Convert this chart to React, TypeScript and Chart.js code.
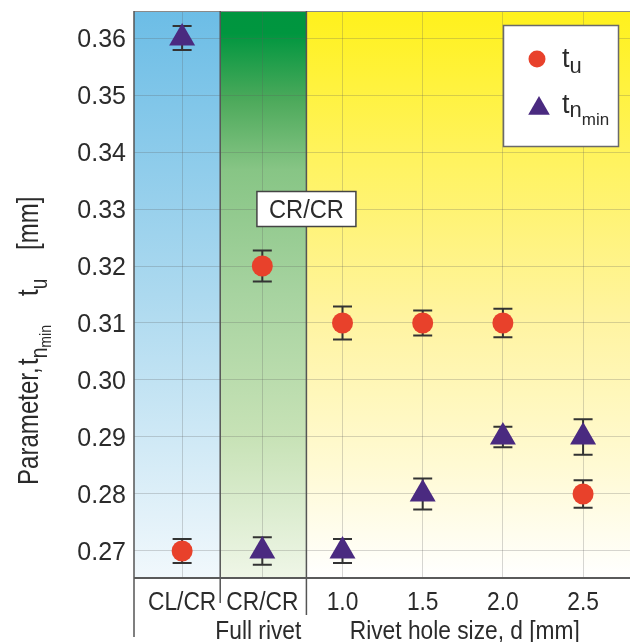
import React, { useEffect, useRef } from "react";
import { Chart, registerables } from "chart.js";

Chart.register(...registerables);

// ---------- data ----------
const categories = ["CL/CR", "CR/CR", "1.0", "1.5", "2.0", "2.5"];
const categoryPositions = [0, 1, 2, 3, 4, 5];
const tuValues = [0.27, 0.32, 0.31, 0.31, 0.31, 0.28];
const tuErrors = [0.0021, 0.0027, 0.0029, 0.0022, 0.0025, 0.0024];
const tnValues = [0.36, 0.27, 0.27, 0.28, 0.29, 0.29];
const tnErrors = [0.0021, 0.0024, 0.0021, 0.0027, 0.0018, 0.0031];
const yTicks = [0.27, 0.28, 0.29, 0.3, 0.31, 0.32, 0.33, 0.34, 0.35, 0.36];
const yTickLabels = ["0.27", "0.28", "0.29", "0.30", "0.31", "0.32", "0.33", "0.34", "0.35", "0.36"];
const regionBounds = [0.475, 1.55];
const groupLabelTexts = ["Full rivet", "Rivet hole size, d [mm]"];
const groupLabelFrom = [1, 2];
const groupLabelTo = [1, 5];
const annotationText = "CR/CR";
const annotationX = 1.55;
const annotationY = 0.33;

const RED = "#e8412b";
const PURPLE = "#4a2a80";
const TEXT = "#2b2b2b";
const FONT = '"Liberation Sans", Arial, Helvetica, sans-serif';

type Piece = { t: string; size: number; dy: number };

function setFont(ctx: CanvasRenderingContext2D, size: number) {
  ctx.font = `${size}px ${FONT}`;
}

function drawText(
  ctx: CanvasRenderingContext2D,
  s: string,
  x: number,
  y: number,
  size: number,
  align: CanvasTextAlign,
  sx = 1,
  color = TEXT
) {
  ctx.save();
  setFont(ctx, size);
  ctx.fillStyle = color;
  ctx.textBaseline = "alphabetic";
  ctx.textAlign = align;
  ctx.translate(x, y);
  ctx.scale(sx, 1);
  ctx.fillText(s, 0, 0);
  ctx.restore();
}

// draws pieces left-to-right in the current (possibly rotated) frame
function drawPieces(ctx: CanvasRenderingContext2D, pieces: Piece[], x0: number, y0: number, sx: number) {
  let x = x0;
  for (const p of pieces) {
    setFont(ctx, p.size);
    const w = ctx.measureText(p.t).width * sx;
    ctx.save();
    ctx.fillStyle = TEXT;
    ctx.textAlign = "left";
    ctx.textBaseline = "alphabetic";
    ctx.translate(x, y0 + p.dy);
    ctx.scale(sx, 1);
    ctx.fillText(p.t, 0, 0);
    ctx.restore();
    x += w;
  }
  return x;
}

function drawMarker(ctx: CanvasRenderingContext2D, style: string, x: number, y: number, r: number, color: string) {
  ctx.save();
  ctx.fillStyle = color;
  ctx.beginPath();
  if (style === "circle") {
    ctx.arc(x, y, r, 0, Math.PI * 2);
  } else {
    for (let k = 0; k < 3; k++) {
      const a = (k * 2 * Math.PI) / 3;
      const px = x + Math.sin(a) * r;
      const py = y - Math.cos(a) * r;
      if (k === 0) ctx.moveTo(px, py);
      else ctx.lineTo(px, py);
    }
    ctx.closePath();
  }
  ctx.fill();
  ctx.restore();
}

const decorPlugin = {
  id: "decor",
  beforeDraw(chart: any) {
    const { ctx, chartArea: a } = chart;
    const xs = chart.scales.x;
    ctx.save();
    ctx.fillStyle = "#ffffff";
    ctx.fillRect(0, 0, chart.width, chart.height);
    const b1 = xs.getPixelForValue(regionBounds[0]);
    const b2 = xs.getPixelForValue(regionBounds[1]);
    const h = a.bottom - a.top;

    const gBlue = ctx.createLinearGradient(0, a.top, 0, a.bottom);
    gBlue.addColorStop(0, "#6cbde6");
    gBlue.addColorStop(0.5, "#acd9ef");
    gBlue.addColorStop(1, "#f1f8fc");
    ctx.fillStyle = gBlue;
    ctx.fillRect(a.left, a.top, b1 - a.left, h);

    const gGreen = ctx.createLinearGradient(0, a.top, 0, a.bottom);
    gGreen.addColorStop(0, "#00953f");
    gGreen.addColorStop(0.04, "#00963f");
    gGreen.addColorStop(0.16, "#4eaa5c");
    gGreen.addColorStop(0.28, "#87c585");
    gGreen.addColorStop(0.5, "#a7d3a0");
    gGreen.addColorStop(0.75, "#c7e2b6");
    gGreen.addColorStop(1, "#eff6e7");
    ctx.fillStyle = gGreen;
    ctx.fillRect(b1, a.top, b2 - b1, h);

    const gYellow = ctx.createLinearGradient(0, a.top, 0, a.bottom);
    gYellow.addColorStop(0, "#fff11c");
    gYellow.addColorStop(0.25, "#fff35c");
    gYellow.addColorStop(0.55, "#fff4a2");
    gYellow.addColorStop(0.8, "#fffad3");
    gYellow.addColorStop(1, "#ffffff");
    ctx.fillStyle = gYellow;
    ctx.fillRect(b2, a.top, a.right - b2, h);
    ctx.restore();
  },
  beforeDatasetsDraw(chart: any) {
    const { ctx, chartArea: a } = chart;
    const xs = chart.scales.x;
    const ys = chart.scales.y;
    ctx.save();
    // frame lines
    ctx.strokeStyle = "#8a8a8a";
    ctx.lineWidth = 1;
    ctx.beginPath();
    ctx.moveTo(a.left, a.top + 0.5);
    ctx.lineTo(a.right, a.top + 0.5);
    ctx.stroke();

    ctx.strokeStyle = "#555555";
    ctx.lineWidth = 1.5;
    const b1 = xs.getPixelForValue(regionBounds[0]);
    const b2 = xs.getPixelForValue(regionBounds[1]);
    ctx.beginPath();
    ctx.moveTo(b1, a.top);
    ctx.lineTo(b1, a.bottom + 25);
    ctx.moveTo(b2, a.top);
    ctx.lineTo(b2, a.bottom + 37);
    ctx.moveTo(a.left, a.top);
    ctx.lineTo(a.left, a.bottom + 59);
    ctx.stroke();

    ctx.lineWidth = 2;
    ctx.strokeStyle = "#5a5a5a";
    ctx.beginPath();
    ctx.moveTo(a.left, a.bottom);
    ctx.lineTo(a.right, a.bottom);
    ctx.stroke();

    // error bars
    ctx.strokeStyle = "#333333";
    ctx.lineWidth = 2;
    const series = [
      [tuValues, tuErrors],
      [tnValues, tnErrors],
    ];
    for (const [vals, errs] of series) {
      categoryPositions.forEach((p, i) => {
        const x = xs.getPixelForValue(p);
        const yT = ys.getPixelForValue(vals[i] + errs[i]);
        const yB = ys.getPixelForValue(vals[i] - errs[i]);
        ctx.beginPath();
        ctx.moveTo(x, yT);
        ctx.lineTo(x, yB);
        ctx.moveTo(x - 9.5, yT);
        ctx.lineTo(x + 9.5, yT);
        ctx.moveTo(x - 9.5, yB);
        ctx.lineTo(x + 9.5, yB);
        ctx.stroke();
      });
    }
    ctx.restore();
  },
  afterDraw(chart: any) {
    const { ctx, chartArea: a } = chart;
    const xs = chart.scales.x;
    const ys = chart.scales.y;

    // y tick labels
    yTicks.forEach((v, i) => {
      drawText(ctx, yTickLabels[i], a.left - 8, ys.getPixelForValue(v) + 9.3, 25, "right", 1);
    });
    // x tick labels
    categoryPositions.forEach((p, i) => {
      drawText(ctx, categories[i], xs.getPixelForValue(p), a.bottom + 32, 25, "center", 0.91);
    });
    // group labels
    groupLabelTexts.forEach((t, i) => {
      const cx = (xs.getPixelForValue(groupLabelFrom[i]) + xs.getPixelForValue(groupLabelTo[i])) / 2;
      drawText(ctx, t, cx - (i === 0 ? 4 : -2), a.bottom + 61, 25, "center", 0.91);
    });

    // annotation box
    const ax = xs.getPixelForValue(annotationX);
    const ay = ys.getPixelForValue(annotationY);
    ctx.save();
    ctx.fillStyle = "#ffffff";
    ctx.strokeStyle = "#444444";
    ctx.lineWidth = 1.5;
    ctx.fillRect(ax - 49.5, ay - 17.5, 99, 35);
    ctx.strokeRect(ax - 49.5, ay - 17.5, 99, 35);
    ctx.restore();
    drawText(ctx, annotationText, ax, ay + 9, 26, "center", 0.91);

    // legend
    ctx.save();
    ctx.fillStyle = "#ffffff";
    ctx.strokeStyle = "#6a6a6a";
    ctx.lineWidth = 1.5;
    ctx.fillRect(503.5, 25.5, 115, 121);
    ctx.strokeRect(503.5, 25.5, 115, 121);
    ctx.restore();
    drawMarker(ctx, "circle", 537, 59, 8.5, RED);
    drawMarker(ctx, "triangle", 539, 108.5, 12.5, PURPLE);
    drawPieces(ctx, [
      { t: "t", size: 27, dy: 0 },
      { t: "u", size: 22, dy: 6 },
    ], 562, 67, 1);
    drawPieces(ctx, [
      { t: "t", size: 27, dy: 0 },
      { t: "n", size: 22, dy: 4 },
      { t: "min", size: 17, dy: 12 },
    ], 562, 113, 1);

    // y axis title (rotated); local x runs upward on screen from y=485
    const base = 485;
    ctx.save();
    ctx.translate(38, base);
    ctx.rotate(-Math.PI / 2);
    const sx = 0.83;
    drawPieces(ctx, [{ t: "Parameter,", size: 29, dy: 0 }], 0, 0, sx);
    drawPieces(ctx, [
      { t: "t", size: 29, dy: 0 },
      { t: "n", size: 23, dy: 9 },
      { t: "min", size: 17, dy: 13 },
    ], base - 365, 0, sx);
    drawPieces(ctx, [
      { t: "t", size: 29, dy: 0 },
      { t: "u", size: 23, dy: 9 },
    ], base - 296, 0, sx);
    drawPieces(ctx, [{ t: "[mm]", size: 29, dy: 0 }], base - 250, 0, sx);
    ctx.restore();
  },
};

export default function App() {
  const ref = useRef<HTMLCanvasElement | null>(null);
  useEffect(() => {
    if (!ref.current) return;
    const chart = new Chart(ref.current, {
      type: "scatter",
      data: {
        datasets: [
          {
            label: "tu",
            data: categoryPositions.map((x, i) => ({ x, y: tuValues[i] })),
            pointStyle: "circle",
            pointRadius: 10.5,
            pointHoverRadius: 10.5,
            pointBackgroundColor: RED,
            pointBorderWidth: 0,
            showLine: false,
            clip: false,
          } as any,
          {
            label: "tn_min",
            data: categoryPositions.map((x, i) => ({ x, y: tnValues[i] })),
            pointStyle: "triangle",
            pointRadius: 15,
            pointHoverRadius: 15,
            pointBackgroundColor: PURPLE,
            pointBorderWidth: 0,
            showLine: false,
            clip: false,
          } as any,
        ],
      },
      options: {
        animation: false,
        responsive: false,
        events: [],
        layout: { autoPadding: false, padding: { left: 134, top: 11, right: 0, bottom: 64 } },
        plugins: { legend: { display: false }, tooltip: { enabled: false }, title: { display: false } },
        scales: {
          x: {
            type: "linear",
            min: -0.6,
            max: 5.585,
            ticks: { display: false },
            border: { display: false },
            grid: { color: "rgba(90,90,90,0.25)", lineWidth: 1, drawTicks: false },
            afterBuildTicks: (s: any) => {
              s.ticks = categoryPositions.map((v) => ({ value: v }));
            },
          },
          y: {
            type: "linear",
            min: 0.26526,
            max: 0.36474,
            ticks: { display: false },
            border: { display: false },
            grid: { color: "rgba(90,90,90,0.25)", lineWidth: 1, drawTicks: false },
            afterBuildTicks: (s: any) => {
              s.ticks = yTicks.map((v) => ({ value: v }));
            },
          },
        },
      },
      plugins: [decorPlugin],
    });
    return () => chart.destroy();
  }, []);
  return (
    <div style={{ position: "fixed", left: 0, top: 0, width: 630, height: 642 }}>
      <canvas ref={ref} width={630} height={642} style={{ display: "block" }} />
    </div>
  );
}
